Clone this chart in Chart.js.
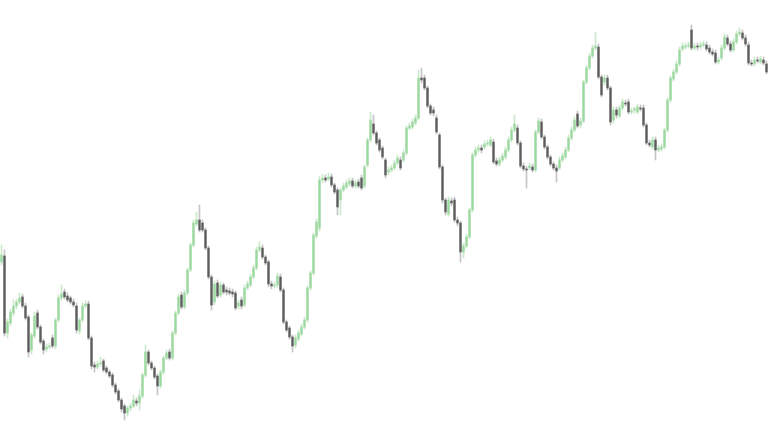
<!DOCTYPE html>
<html>
<head>
<meta charset="utf-8">
<script src="https://cdn.jsdelivr.net/npm/chart.js@4/dist/chart.umd.min.js"></script>
<style>
  html, body { margin: 0; padding: 0; background: #ffffff; }
  #wrap { width: 768px; height: 432px; position: relative; }
</style>
</head>
<body>
<div id="wrap"><canvas id="candleChart"></canvas></div>
<script>
// OHLC values, one entry per candle
const opens = [
  170,176,99,109,119,126,130,135,126,115,82,96,119,105,91,83,85,94,86,112,
  134,140,136,134,130,126,101,112,126,128,94,67,65,68,71,64,60,57,47,41,
  32,26,19,24,26,31,29,36,57,80,69,64,56,46,60,74,80,74,99,119,
  137,125,139,162,187,208,212,209,202,184,155,130,149,137,147,142,141,140,139,126,
  132,127,144,147,155,164,182,184,175,170,148,146,147,155,142,110,104,95,87,93,
  98,105,112,144,159,196,204,252,254,253,255,247,242,232,242,245,248,251,246,250,
  254,246,267,292,308,299,292,284,272,260,262,264,269,272,272,279,304,305,309,314,
  354,354,344,326,322,314,297,265,232,218,231,232,212,209,180,186,195,222,277,282,
  284,285,288,287,290,271,268,272,275,282,292,302,304,289,266,263,264,265,262,300,
  310,295,285,275,268,264,264,272,275,282,294,302,318,307,311,350,364,376,384,385,
  355,350,354,344,312,322,316,324,329,330,320,322,320,324,324,307,289,285,292,282,
  283,285,302,332,353,360,368,383,385,386,402,384,386,385,387,387,384,380,379,370,
  374,384,394,388,382,390,398,399,394,387,369,368,372,370,372,368
];
const highs = [
  187,182,113,123,132,133,139,138,129,117,99,120,122,107,93,88,89,97,114,137,
  147,143,139,136,133,129,114,129,131,131,96,70,71,75,73,66,62,59,49,43,
  34,28,26,29,37,34,42,59,87,82,71,66,58,62,76,82,83,101,121,138,
  140,142,164,189,212,220,227,212,204,186,157,151,152,150,149,145,144,143,141,132,
  135,147,151,158,167,185,190,187,177,172,151,150,159,158,144,112,106,97,97,102,
  108,115,146,161,199,213,256,258,257,259,258,249,244,244,249,252,254,254,252,253,
  257,267,294,320,317,301,294,286,274,265,267,272,277,275,282,306,309,313,317,362,
  364,357,346,328,325,317,299,267,234,235,234,235,215,211,189,198,224,279,285,287,
  287,291,292,295,293,274,275,279,285,295,305,317,307,291,269,266,269,268,302,314,
  313,297,287,277,270,267,275,279,285,297,305,315,321,314,352,367,379,387,400,388,
  357,357,357,346,325,325,327,333,332,333,324,325,328,327,327,309,292,295,295,287,
  288,304,334,356,363,371,385,389,389,390,407,389,389,390,391,390,387,383,382,375,
  387,398,397,391,393,401,404,402,397,390,372,375,375,376,375,371
];
const lows = [
  167,96,94,106,116,123,128,124,112,75,78,94,103,88,78,80,83,84,83,110,
  132,133,130,128,125,99,98,110,124,92,63,60,63,66,60,58,54,45,38,30,
  20,12,16,21,24,26,22,34,55,67,62,53,37,44,58,72,72,72,97,117,
  123,123,137,160,185,206,200,200,182,153,122,127,134,135,138,137,137,135,122,123,
  123,125,142,145,153,162,180,173,167,145,143,144,144,140,108,100,93,80,84,91,
  96,103,110,142,157,194,201,249,250,251,245,238,217,217,240,243,246,244,244,244,
  242,244,265,290,297,287,280,273,254,257,260,262,267,262,270,277,302,303,307,312,
  349,342,324,317,316,298,263,229,217,216,226,210,206,170,174,184,193,220,275,280,
  279,283,286,285,268,266,266,270,273,280,290,300,287,264,261,244,262,260,260,298,
  293,283,273,266,262,250,262,270,273,280,292,300,304,304,309,348,362,374,382,353,
  335,347,342,307,309,314,314,322,326,318,318,319,318,321,305,287,285,283,272,280,
  281,283,300,330,351,358,366,381,383,384,382,382,382,383,385,381,378,376,368,368,
  372,382,386,380,380,388,396,392,386,367,366,366,369,368,367,358
];
const closes = [
  177,99,110,120,126,130,134,126,114,80,97,116,105,90,82,85,86,86,112,134,
  138,135,132,130,127,102,112,126,128,94,66,65,68,69,62,60,56,47,40,32,
  23,19,24,26,32,29,36,57,80,69,64,55,46,60,74,79,74,99,119,135,
  125,139,162,187,209,212,202,202,184,155,127,148,136,147,140,140,139,138,124,129,
  126,144,148,155,164,182,185,175,169,148,146,147,156,142,110,102,95,86,94,99,
  105,112,144,159,197,210,252,254,252,255,247,240,225,242,246,249,251,246,249,246,
  244,265,292,312,299,289,282,275,257,262,264,269,274,264,279,304,306,310,314,354,
  352,344,326,319,319,300,265,232,220,232,229,212,209,180,186,195,222,277,282,284,
  282,288,289,292,270,268,272,276,282,292,302,308,289,266,263,262,266,262,300,311,
  295,285,275,268,264,261,272,276,282,294,302,312,306,311,350,364,376,384,386,355,
  337,354,344,310,322,317,324,330,328,320,321,322,325,323,307,289,287,292,282,284,
  285,302,332,354,360,368,382,386,386,387,384,386,385,387,388,383,380,378,370,372,
  384,395,388,382,390,398,400,394,388,369,368,372,371,373,369,360
];
const labels = opens.map((_, i) => 'D' + (i + 1));

const UP_COLOR = '#9cd99f';
const DOWN_COLOR = '#5c5c5c';
const WICK_COLOR = '#c4c4c4';

function drawCandles() {
  const ctx = document.getElementById('candleChart').getContext('2d');
  const bodies = opens.map((o, i) => [o, closes[i]]);
  const wicks = lows.map((l, i) => [l, highs[i]]);
  const bodyColors = opens.map((o, i) => closes[i] >= o ? UP_COLOR : DOWN_COLOR);
  const wickColors = opens.map((o, i) => closes[i] >= o ? '#cce8cd' : WICK_COLOR);

  new Chart(ctx, {
    type: 'bar',
    data: {
      labels,
      datasets: [
        {
          label: 'Body',
          data: bodies,
          backgroundColor: bodyColors,
          barThickness: 1.7,
          minBarLength: 1,
          grouped: false,
          order: 0
        },
        {
          label: 'Wick',
          data: wicks,
          backgroundColor: wickColors,
          barThickness: 1,
          grouped: false,
          order: 1
        }
      ]
    },
    options: {
      responsive: true,
      maintainAspectRatio: false,
      animation: false,
      layout: { padding: 0 },
      plugins: { legend: { display: false }, tooltip: { enabled: false } },
      scales: {
        x: { display: false, offset: true },
        y: { display: false, min: 0, max: 432 }
      }
    }
  });
}

drawCandles();
</script>
</body>
</html>
